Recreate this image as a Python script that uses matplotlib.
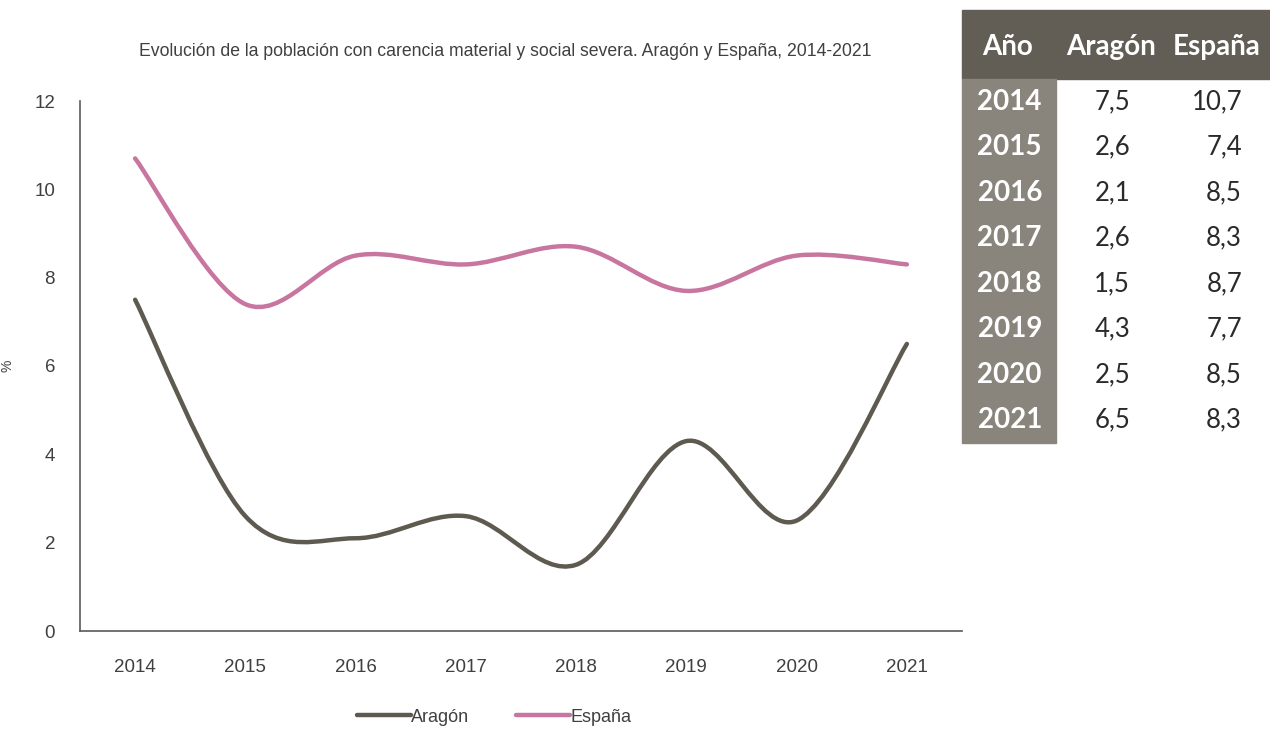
import numpy as np
import matplotlib
matplotlib.use("Agg")
import matplotlib.pyplot as plt
from matplotlib.path import Path
from matplotlib.patches import PathPatch, Rectangle
from matplotlib.lines import Line2D

plt.rcParams['font.family'] = ['Liberation Sans', 'DejaVu Sans']

years = ["2014", "2015", "2016", "2017", "2018", "2019", "2020", "2021"]
aragon = [7.5, 2.6, 2.1, 2.6, 1.5, 4.3, 2.5, 6.5]
espana = [10.7, 7.4, 8.5, 8.3, 8.7, 7.7, 8.5, 8.3]
aragon_txt = ["7,5", "2,6", "2,1", "2,6", "1,5", "4,3", "2,5", "6,5"]
espana_txt = ["10,7", "7,4", "8,5", "8,3", "8,7", "7,7", "8,5", "8,3"]

c_arg = "#5e5a50"
c_esp = "#c8769f"
c_axis = "#595959"
c_text = "#404040"


def smooth_path(xs, ys):
    # excel-like smoothed line: cubic bezier through the points
    p = np.column_stack([xs, ys]).astype(float)
    n = len(p)
    verts = [p[0]]
    codes = [Path.MOVETO]
    for i in range(n - 1):
        p0 = p[i - 1] if i > 0 else p[i]
        p3 = p[i + 2] if i + 2 < n else p[i + 1]
        c1 = p[i] + (p[i + 1] - p0) / 6
        c2 = p[i + 1] - (p3 - p[i]) / 6
        verts += [c1, c2, p[i + 1]]
        codes += [Path.CURVE4] * 3
    return Path(verts, codes)


fig = plt.figure(figsize=(12.7, 7.29), dpi=100)
ax = fig.add_axes([80 / 1270, 1 - 631 / 729, 882 / 1270, 530 / 729])

x = np.arange(len(years))
for vals, col in [(espana, c_esp), (aragon, c_arg)]:
    ax.add_patch(PathPatch(smooth_path(x, vals), fill=False, edgecolor=col,
                           lw=3.2, capstyle='round', joinstyle='round'))

ax.set_xlim(-0.5, len(years) - 0.5)
ax.set_ylim(0, 12)
ax.set_xticks(x)
ax.set_xticklabels(years)
ax.set_yticks(range(0, 13, 2))
ax.tick_params(length=0, labelsize=13.5, colors=c_text)
ax.tick_params(axis='x', pad=20)
ax.tick_params(axis='y', pad=18)
for s in ['top', 'right']:
    ax.spines[s].set_visible(False)
for s in ['left', 'bottom']:
    ax.spines[s].set_color(c_axis)
    ax.spines[s].set_linewidth(1.2)
ax.set_ylabel("%", fontsize=10, color=c_text)
ax.yaxis.set_label_coords(-65 / 882, 0.5)

fig.text(505 / 1270, 1 - 52 / 729,
         "Evolución de la población con carencia material y social severa. Aragón y España, 2014-2021",
         ha='center', va='center', fontsize=12.7, color=c_text)

handles = [Line2D([], [], color=c_arg, lw=3.2, solid_capstyle='round'),
           Line2D([], [], color=c_esp, lw=3.2, solid_capstyle='round')]
fig.legend(handles, ["Aragón", "España"], loc='center', bbox_to_anchor=(494 / 1270, 1 - 717 / 729),
           ncol=2, frameon=False, fontsize=13, handlelength=3.0, handletextpad=0.0,
           columnspacing=2.6, labelcolor=c_text)

# table at right
W, H = 1270, 729
top, hdr_h, row_h = 10, 69, 45.5
fig.patches.append(Rectangle((962 / W, 1 - (top + hdr_h) / H), (W - 962) / W, hdr_h / H,
                             transform=fig.transFigure, color="#625d55", zorder=0))
fig.patches.append(Rectangle((962 / W, 1 - (top + hdr_h + row_h * len(years)) / H), 94 / W,
                             row_h * len(years) / H, transform=fig.transFigure,
                             color="#8a857c", zorder=0))
hy = 1 - (top + 37) / H
tfam = ['Lato', 'DejaVu Sans']
fig.text(1008 / W, hy, "Año", ha='center', va='center', fontsize=20, fontweight='bold',
         color='white', family=tfam)
fig.text(1111 / W, hy, "Aragón", ha='center', va='center', fontsize=20, fontweight='bold',
         color='white', family=tfam)
fig.text(1173 / W, hy, "España", ha='left', va='center', fontsize=20, fontweight='bold',
         color='white', family=tfam)
for i, yr in enumerate(years):
    yy = 1 - (top + hdr_h + row_h * (i + 0.5)) / H
    fig.text(1042 / W, yy, yr, ha='right', va='center', fontsize=20, fontweight='bold',
             color='white', family=tfam)
    fig.text(1130 / W, yy, aragon_txt[i], ha='right', va='center', fontsize=18.5,
             fontweight='normal', color='#2a2a2a', family=tfam)
    fig.text(1242 / W, yy, espana_txt[i], ha='right', va='center', fontsize=18.5,
             fontweight='normal', color='#2a2a2a', family=tfam)

fig.savefig("out.png", dpi=100)
